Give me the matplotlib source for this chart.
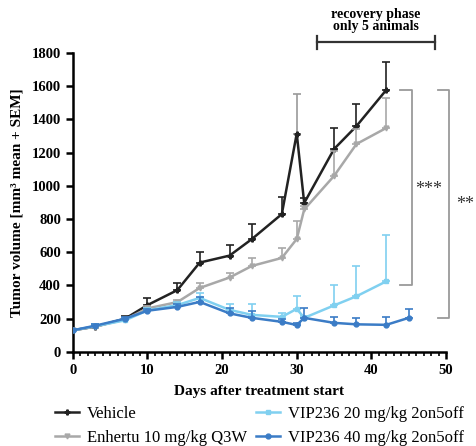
import matplotlib
matplotlib.use("Agg")
import matplotlib.pyplot as plt
import numpy as np

plt.rcParams['font.family'] = ['Liberation Serif', 'DejaVu Serif']

# ---- data ----
days_veh = [0, 3, 7, 10, 14, 17, 21, 24, 28, 30, 31, 35, 38, 42]
veh_mean = [130, 152, 200, 282, 372, 538, 580, 680, 830, 1315, 897, 1222, 1360, 1578]
veh_top  = [140, 165, 215, 325, 415, 602, 644, 770, 934, 1555, 925, 1349, 1495, 1748]

days_enh = [0, 3, 7, 10, 14, 17, 21, 24, 28, 30, 31, 35, 38, 42]
enh_mean = [130, 152, 195, 262, 300, 385, 448, 518, 566, 680, 858, 1060, 1252, 1349]
enh_top  = [140, 162, 205, 275, 315, 415, 476, 566, 626, 789, 880, 1210, 1340, 1529]

days_v20 = [0, 3, 7, 10, 14, 17, 21, 24, 28, 30, 31, 35, 38, 42]
v20_mean = [130, 155, 190, 250, 282, 325, 253, 223, 211, 259, 205, 280, 335, 425]
v20_top  = [140, 168, 205, 262, 300, 355, 289, 289, 235, 335, 215, 405, 518, 704]

days_v40 = [0, 3, 7, 10, 14, 17, 21, 24, 28, 30, 31, 35, 38, 42, 45]
v40_mean = [130, 158, 200, 248, 271, 301, 232, 205, 181, 162, 205, 175, 166, 163, 205]
v40_top  = [140, 170, 212, 260, 290, 330, 262, 247, 200, 175, 265, 211, 205, 211, 259]

labels = ["Vehicle", "Enhertu 10 mg/kg Q3W", "VIP236 20 mg/kg 2on5off", "VIP236 40 mg/kg 2on5off"]
colors = ["#222222", "#a8a8a8", "#80d0f0", "#3b7cc6"]
markers = ["P", "v", "s", "o"]

# brackets
br1 = (1578, 400)   # ***
br2 = (1578, 205)   # **
recovery = (32.7, 48.5)

fig = plt.figure(figsize=(4.76, 4.46), dpi=100)
ax = fig.add_axes([0.153, 0.211, 0.784, 0.670])

series = [(days_veh, veh_mean, veh_top), (days_enh, enh_mean, enh_top),
          (days_v20, v20_mean, v20_top), (days_v40, v40_mean, v40_top)]
handles = []
for i, (d, m, t) in enumerate(series):
    d = np.array(d); m = np.array(m, float); t = np.array(t, float)
    err = t - m
    if i == 0:
        sel = d != 30
        ax.errorbar(d[sel], m[sel], yerr=[np.zeros(sel.sum()), err[sel]], fmt='none',
                    ecolor=colors[i], elinewidth=1.2, capsize=3, capthick=1.2, zorder=2 + i)
        ax.errorbar(d[~sel], m[~sel], yerr=[np.zeros((~sel).sum()), err[~sel]], fmt='none',
                    ecolor="#9a9a9a", elinewidth=1.2, capsize=3, capthick=1.2, zorder=2 + i)
    else:
        ax.errorbar(d, m, yerr=[np.zeros(len(d)), err], fmt='none',
                    ecolor=colors[i], elinewidth=1.2, capsize=3, capthick=1.2, zorder=2 + i)
    h, = ax.plot(d, m, color=colors[i], lw=1.8, marker=markers[i], ms=3.5,
                 zorder=3 + i, label=labels[i])
    handles.append(h)

ax.set_xlim(0, 50)
ax.set_ylim(0, 1800)
ax.set_xticks([0, 10, 20, 30, 40, 50])
ax.set_xticks(np.arange(0, 51, 1), minor=True)
ax.set_yticks(np.arange(0, 1801, 200))
for s in ['top', 'right']:
    ax.spines[s].set_visible(False)
for s in ['left', 'bottom']:
    ax.spines[s].set_linewidth(1.8)
ax.tick_params(axis='both', which='major', width=1.8, length=5, labelsize=10.5)
ax.tick_params(axis='x', which='minor', width=1.2, length=3)
for lab in ax.get_xticklabels() + ax.get_yticklabels():
    lab.set_fontweight('bold')

ax.set_xlabel("Days after treatment start", fontsize=11, fontweight='bold', labelpad=6)
ax.set_ylabel("Tumor volume [mm³ mean + SEM]", fontsize=11, fontweight='bold', labelpad=6)

# significance brackets
gc = "#9a9a9a"
ax.plot([43.8, 45.4, 45.4, 43.8], [br1[0], br1[0], br1[1], br1[1]], color=gc, lw=1.3, clip_on=False)
ax.text(47.7, 980, "***", fontsize=13, ha='center', va='center', color='#333333', clip_on=False)
ax.plot([48.9, 50.4, 50.4, 48.9], [br2[0], br2[0], br2[1], br2[1]], color=gc, lw=1.3, clip_on=False)
ax.text(52.6, 890, "**", fontsize=13, ha='center', va='center', color='#333333', clip_on=False)

# recovery phase bracket
ax.plot([recovery[0], recovery[1]], [1866, 1866], color='#333333', lw=1.6, clip_on=False)
ax.plot([recovery[0], recovery[0]], [1825, 1905], color='#333333', lw=1.6, clip_on=False)
ax.plot([recovery[1], recovery[1]], [1825, 1905], color='#333333', lw=1.6, clip_on=False)
ax.text((recovery[0] + recovery[1]) / 2, 1920, "recovery phase\nonly 5 animals", fontsize=10,
        fontweight='bold', ha='center', va='bottom', linespacing=0.95, clip_on=False)

fig.legend(handles=handles, loc='lower left', bbox_to_anchor=(0.095, -0.022), ncol=2,
           frameon=False, fontsize=12, handlelength=1.4, handletextpad=0.5,
           columnspacing=0.55, labelspacing=0.45, borderaxespad=0.2)

fig.savefig("out.png", dpi=100)
